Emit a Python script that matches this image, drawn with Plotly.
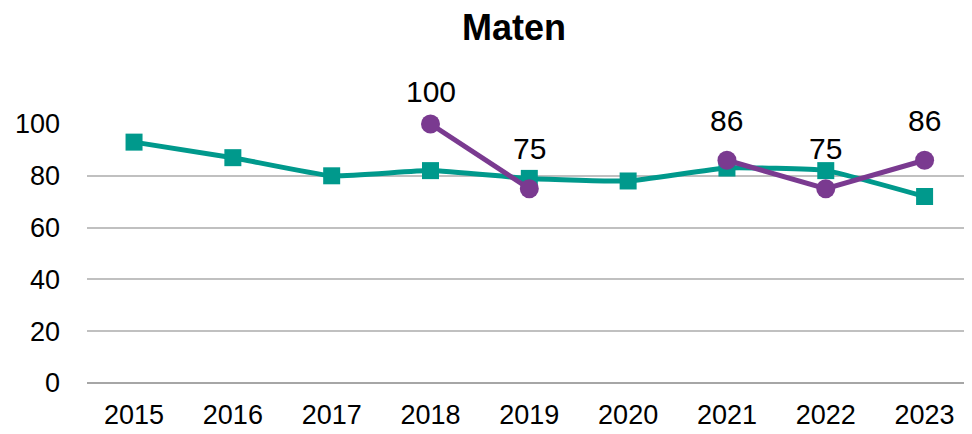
import plotly.graph_objects as go

years = ["2015", "2016", "2017", "2018", "2019", "2020", "2021", "2022", "2023"]
teal_values = [93, 87, 80, 82, 79, 78, 83, 82, 72]
purple_years = ["2018", "2019", "2020", "2021", "2022", "2023"]
purple_values = [100, 75, None, 86, 75, 86]
purple_labels = ["100", "75", "", "86", "75", "86"]

TEAL = "#00998C"
PURPLE = "#7A3A90"
FONT = "Liberation Sans, Arial, sans-serif"

W, H = 972, 434
M_L, M_R, M_T, M_B = 79, 6, 116, 59
Y_MAX = 100
plot_h = H - M_T - M_B

fig = go.Figure()
fig.add_trace(go.Scatter(
    x=years, y=teal_values, mode="lines+markers",
    line=dict(color=TEAL, width=5, shape="spline", smoothing=0.4),
    marker=dict(symbol="square", size=17, color=TEAL),
    showlegend=False, cliponaxis=False,
))
fig.add_trace(go.Scatter(
    x=purple_years, y=purple_values, mode="lines+markers",
    line=dict(color=PURPLE, width=5),
    marker=dict(symbol="circle", size=19, color=PURPLE),
    connectgaps=False, showlegend=False, cliponaxis=False,
))

# data labels above the purple points; kept below the chart's top like the original
LABEL_GAP = 40
CEILING = 33  # px above the plot top the label centre may reach
for xv, yv, lab in zip(purple_years, purple_values, purple_labels):
    if yv is None:
        continue
    px_from_top = (Y_MAX - yv) / Y_MAX * plot_h
    shift = min(LABEL_GAP, px_from_top + CEILING)
    fig.add_annotation(
        x=years.index(xv), y=yv, xref="x", yref="y", text=lab, showarrow=False,
        xanchor="center", yanchor="middle", yshift=shift,
        font=dict(family=FONT, size=30, color="#000000"),
    )

fig.update_layout(
    width=W, height=H,
    margin=dict(l=M_L, r=M_R, t=M_T, b=M_B),
    paper_bgcolor="white", plot_bgcolor="white",
    font=dict(family=FONT, size=27, color="#000000"),
    title=dict(text="<b>Maten</b>", x=0.5206, xanchor="center", y=0.955, yanchor="middle",
               font=dict(family=FONT, size=36, color="#000000")),
)
fig.update_xaxes(
    type="category", categoryorder="array", categoryarray=years,
    range=[-0.476, 8.5], showgrid=False, zeroline=False,
    showline=False, ticks="", ticklabelstandoff=13,
    tickfont=dict(size=27),
)
fig.update_yaxes(
    range=[0, Y_MAX], tickvals=[0, 20, 40, 60, 80, 100],
    showgrid=True, gridcolor="#C0C0C0", gridwidth=1.5,
    zeroline=True, zerolinecolor="#A6A6A6", zerolinewidth=2,
    showline=False, ticks="", ticklabelstandoff=26,
    tickfont=dict(size=27),
)

fig.write_html("out.html")
